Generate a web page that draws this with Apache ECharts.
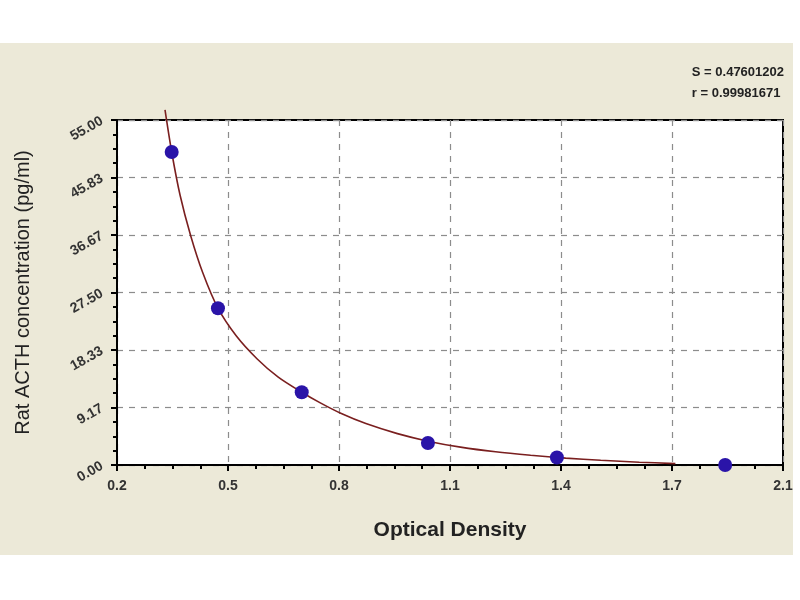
<!DOCTYPE html>
<html>
<head>
<meta charset="utf-8">
<script src="https://cdn.jsdelivr.net/npm/echarts@6/dist/echarts.min.js"></script>
<style>
html,body{margin:0;padding:0;background:#ffffff;}
#chart{width:800px;height:600px;}
</style>
</head>
<body>
<div id="chart"></div>
<script>
// ---- data ----
const xTickLabels = ['0.2', '0.5', '0.8', '1.1', '1.4', '1.7', '2.1'];
const xTickValues = [0.2, 0.5167, 0.8333, 1.15, 1.4667, 1.7833, 2.1];
const xMinorTickValues = [0.2792, 0.3583, 0.4375, 0.5958, 0.675, 0.7542, 0.9125, 0.9917, 1.0708,
  1.2292, 1.3083, 1.3875, 1.5458, 1.625, 1.7042, 1.8625, 1.9417, 2.0208];
const yTickLabels = ['0.00', '9.17', '18.33', '27.50', '36.67', '45.83', '55.00'];

const standardOD = [0.356, 0.488, 0.727, 1.087, 1.455, 1.935];
const standardConc = [49.9, 25.0, 11.6, 3.5, 1.2, 0.0];

const curveOD = [0.337, 0.356, 0.38, 0.41, 0.445, 0.488, 0.54, 0.60, 0.66, 0.727, 0.78, 0.84,
  0.91, 1.0, 1.087, 1.18, 1.28, 1.38, 1.48, 1.58, 1.69, 1.793];
const curveConc = [56.6, 49.9, 43.0, 36.6, 30.6, 25.0, 20.6, 16.9, 14.0, 11.6, 9.9, 8.2,
  6.6, 5.0, 3.8, 2.85, 2.1, 1.55, 1.1, 0.75, 0.45, 0.22];

const statLines = ['S = 0.47601202', 'r = 0.99981671'];
const xTitle = 'Optical Density';
const yTitle = 'Rat ACTH concentration (pg/ml)';

const chart = echarts.init(document.getElementById('chart'));
const FONT = '"Liberation Sans", Arial, sans-serif';

function xLabel(v) {
  let best = 0, d = Infinity;
  xTickValues.forEach((t, i) => { const dd = Math.abs(t - v); if (dd < d) { d = dd; best = i; } });
  return xTickLabels[best];
}

const option = {
  backgroundColor: '#ffffff',
  animation: false,
  graphic: [
    { type: 'rect', z: -10, shape: { x: 0, y: 43, width: 793, height: 512 }, style: { fill: '#ECE9D8' } },
    { type: 'text', right: 16, top: 62, z: 10,
      style: { text: statLines.join('\n'), font: 'bold 13px ' + FONT, fill: '#222', lineHeight: 21, textAlign: 'left' } }
  ],
  grid: {
    left: 117, top: 120, right: 17, bottom: 135,
    show: true, backgroundColor: '#ffffff', borderColor: '#000', borderWidth: 2
  },
  xAxis: [{
    type: 'value', min: 0.2, max: 2.1,
    name: xTitle, nameLocation: 'middle', nameGap: 55,
    nameTextStyle: { fontFamily: FONT, fontSize: 21, fontWeight: 'bold', color: '#222' },
    axisLine: { show: true, onZero: false, lineStyle: { color: '#000', width: 2 } },
    axisTick: { show: true, customValues: xTickValues, length: 6, lineStyle: { color: '#000', width: 2 } },
    axisLabel: { customValues: xTickValues, formatter: xLabel, margin: 14,
      fontFamily: FONT, fontSize: 14, color: '#333', fontWeight: 'bold' },
    splitLine: { show: true, lineStyle: { color: '#8c8c8c', type: [6, 6], width: 1.2 } }
  }, {
    type: 'value', min: 0.2, max: 2.1, position: 'bottom', offset: 0,
    axisLine: { show: false },
    axisTick: { show: true, customValues: xMinorTickValues, length: 4, lineStyle: { color: '#000', width: 2 } },
    axisLabel: { show: false },
    splitLine: { show: false }
  }],
  yAxis: {
    type: 'value', min: 0, max: 55, interval: 55 / 6,
    name: yTitle, nameLocation: 'middle', nameGap: 84, nameRotate: 90,
    nameTextStyle: { fontFamily: FONT, fontSize: 20, color: '#222' },
    axisLine: { show: true, onZero: false, lineStyle: { color: '#000', width: 2 } },
    axisTick: { show: true, length: 6, lineStyle: { color: '#000', width: 2 } },
    minorTick: { show: true, splitNumber: 4, length: 4, lineStyle: { color: '#000', width: 2 } },
    axisLabel: {
      rotate: 30, margin: 15, fontFamily: FONT, fontSize: 14, color: '#333', fontWeight: 'bold',
      formatter: v => yTickLabels[Math.round(v / (55 / 6))]
    },
    splitLine: { show: true, lineStyle: { color: '#8c8c8c', type: [6, 6], width: 1.2 } }
  },
  series: [{
    type: 'line', xAxisIndex: 0,
    data: curveOD.map((x, i) => [x, curveConc[i]]),
    showSymbol: false, symbol: 'none', smooth: 0.3, clip: false,
    lineStyle: { color: '#7a1f1f', width: 1.6 }, z: 2
  }, {
    type: 'scatter', xAxisIndex: 0,
    data: standardOD.map((x, i) => [x, standardConc[i]]),
    symbol: 'circle', symbolSize: 14, clip: false,
    itemStyle: { color: '#2a14a8', opacity: 1 }, z: 3
  }]
};
chart.setOption(option);
</script>
</body>
</html>
